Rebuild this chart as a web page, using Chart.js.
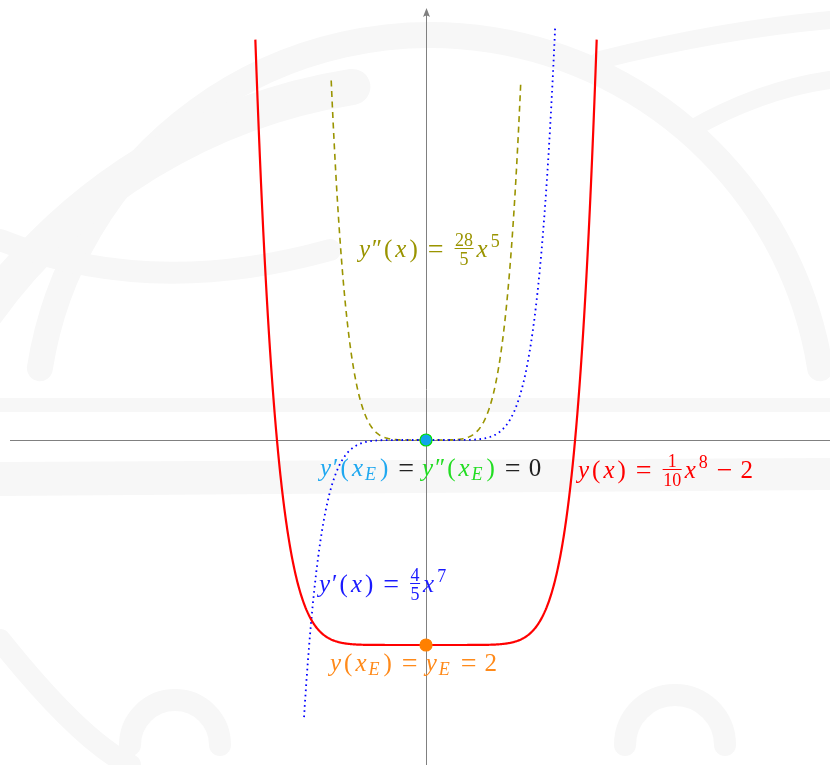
<!DOCTYPE html>
<html>
<head>
<meta charset="utf-8">
<title>y = x^8/10 - 2 und Ableitungen</title>
<script src="https://cdn.jsdelivr.net/npm/chart.js@4.4.1/dist/chart.umd.min.js"></script>
<style>
  html, body { margin: 0; padding: 0; background: #ffffff; }
  #wrap { width: 830px; height: 765px; }
</style>
</head>
<body>
<div id="wrap"><canvas id="funcChart" width="830" height="765"></canvas></div>
<script>
// Curves: y = a * x^n + c, each on its own domain
const curveLabels  = ['y(x)', "y'(x)", "y''(x)"];
const curveCoeffs  = [0.1, 0.8, 5.6];
const curvePowers  = [8, 7, 6];
const curveOffsets = [-2, 0, 0];
const curveFrom    = [-1.665, -1.19, -0.925];
const curveTo      = [1.665, 1.26, 0.925];
const curveColors  = ['#ff0000', '#0000ff', '#9a9400'];

// Marked points (x_E, y'(x_E)) and (x_E, y_E)
const markerX      = [0, 0];
const markerY      = [0, -2];
const markerFill   = ['#12a5ea', '#ff8000'];
const markerBorder = ['#00dd00', '#ff8000'];

// Visible window (function units)
const xMin = -4.156, xMax = 3.941;
const yMin = -3.171, yMax = 4.293;

function sampleCurve(i) {
    const pts = [];
    const n = 300;
    for (let k = 0; k <= n; k++) {
        const x = curveFrom[i] + (curveTo[i] - curveFrom[i]) * k / n;
        pts.push({ x, y: curveCoeffs[i] * Math.pow(x, curvePowers[i]) + curveOffsets[i] });
    }
    return pts;
}

/* ---------- tiny math-text renderer ---------- */
const SERIF = '"Liberation Serif", "DejaVu Serif", serif';
const FS = 25;      // main size
const FS_OP = 28;   // = and −
const FS_S = 18;    // sub / sup / fraction parts

function setFont(ctx, size, italic, spacing) {
    ctx.font = (italic ? 'italic ' : '') + size + 'px ' + SERIF;
    ctx.letterSpacing = (spacing || 0) + 'px';
}

// piece: [kind, text, color?]
// kind: i (italic), r (roman), pr (primes), op (binary op), sub, sup, frac ("num/den")
function drawMath(ctx, pieces, x, base, color) {
    ctx.save();
    ctx.textBaseline = 'alphabetic';
    ctx.textAlign = 'left';
    let cx = x;
    pieces.forEach(p => {
        const [kind, txt] = p;
        ctx.fillStyle = p[2] || color;
        if (kind === 'i' || kind === 'r') {
            setFont(ctx, FS, kind === 'i', 3);
            ctx.fillText(txt, cx, base);
            cx += ctx.measureText(txt).width;
        } else if (kind === 'pr') {
            setFont(ctx, FS, false, -1);
            ctx.fillText(txt, cx - 1, base);
            cx += ctx.measureText(txt).width + 2;
        } else if (kind === 'op') {
            cx += 7;
            setFont(ctx, FS_OP, false, 0);
            ctx.fillText(txt, cx, base + 1);
            cx += ctx.measureText(txt).width + 8;
        } else if (kind === 'sub') {
            setFont(ctx, FS_S, true, 0);
            ctx.fillText(txt, cx - 1, base + 4);
            cx += ctx.measureText(txt).width + 3;
        } else if (kind === 'sup') {
            setFont(ctx, FS_S, false, 0);
            ctx.fillText(txt, cx, base - 10);
            cx += ctx.measureText(txt).width + 2;
        } else if (kind === 'frac') {
            const [num, den] = txt.split('/');
            setFont(ctx, FS_S, false, 0);
            const wn = ctx.measureText(num).width, wd = ctx.measureText(den).width;
            const w = Math.max(wn, wd) + 1;
            const bar = base - 8.5;
            cx += 3;
            ctx.fillText(num, cx + (w - wn) / 2, base - 11);
            ctx.fillText(den, cx + (w - wd) / 2, base + 8);
            ctx.fillRect(cx, bar - 0.5, w, 1);
            cx += w + 3;
        }
    });
    ctx.restore();
}

const GREEN = '#22dd22', BLACK = '#222222';
const labels = [
    { x: 359, y: 257, color: '#9a9400', pieces: [['i', 'y'], ['pr', '′′'], ['r', '('], ['i', 'x'], ['r', ')'], ['op', '='], ['frac', '28/5'], ['i', 'x'], ['sup', '5']] },
    { x: 320, y: 476, color: '#1fa8f0', pieces: [['i', 'y'], ['pr', '′'], ['r', '('], ['i', 'x'], ['sub', 'E'], ['r', ')'], ['op', '=', BLACK],
        ['i', 'y', GREEN], ['pr', '′′', GREEN], ['r', '(', GREEN], ['i', 'x', GREEN], ['sub', 'E', GREEN], ['r', ')', GREEN], ['op', '=', BLACK], ['r', '0', BLACK]] },
    { x: 578, y: 478, color: '#ff0000', pieces: [['i', 'y'], ['r', '('], ['i', 'x'], ['r', ')'], ['op', '='], ['frac', '1/10'], ['i', 'x'], ['sup', '8'], ['op', '−'], ['r', '2']] },
    { x: 319, y: 592, color: '#1a1aff', pieces: [['i', 'y'], ['pr', '′'], ['r', '('], ['i', 'x'], ['r', ')'], ['op', '='], ['frac', '4/5'], ['i', 'x'], ['sup', '7']] },
    { x: 330, y: 671, color: '#ff8a1a', pieces: [['i', 'y'], ['r', '('], ['i', 'x'], ['sub', 'E'], ['r', ')'], ['op', '='], ['i', 'y'], ['sub', 'E'], ['op', '='], ['r', '2']] }
];

/* ---------- plugins ---------- */
const watermarkPlugin = {
    id: 'watermark',
    beforeDraw(chart) {
        const ctx = chart.ctx;
        ctx.save();
        ctx.fillStyle = '#ffffff';
        ctx.fillRect(0, 0, chart.width, chart.height);
        ctx.strokeStyle = '#f7f7f7';
        ctx.fillStyle = '#f7f7f7';
        ctx.lineCap = 'round';
        // faint bands above and below the x-axis
        ctx.fillRect(0, 398, 830, 14);
        ctx.beginPath();
        ctx.moveTo(0, 462); ctx.lineTo(830, 458); ctx.lineTo(830, 490); ctx.lineTo(0, 496);
        ctx.closePath(); ctx.fill();
        // large ring
        ctx.lineWidth = 26;
        ctx.beginPath(); ctx.arc(430, 430, 395, Math.PI * 1.05, Math.PI * 1.95); ctx.stroke();
        ctx.lineWidth = 36;
        ctx.beginPath(); ctx.arc(440, 640, 560, Math.PI * 1.2, Math.PI * 1.45); ctx.stroke();
        // sweeping strokes
        ctx.lineWidth = 18;
        ctx.beginPath(); ctx.moveTo(600, 60); ctx.quadraticCurveTo(720, 30, 830, 20); ctx.stroke();
        ctx.beginPath(); ctx.moveTo(690, 130); ctx.quadraticCurveTo(760, 90, 830, 80); ctx.stroke();
        ctx.lineWidth = 22;
        ctx.beginPath(); ctx.moveTo(0, 240); ctx.quadraticCurveTo(150, 300, 330, 250); ctx.stroke();
        ctx.beginPath(); ctx.moveTo(0, 640); ctx.quadraticCurveTo(80, 740, 130, 765); ctx.stroke();
        ctx.beginPath(); ctx.arc(175, 745, 45, Math.PI, Math.PI * 2); ctx.stroke();
        ctx.beginPath(); ctx.arc(675, 745, 50, Math.PI, Math.PI * 2); ctx.stroke();
        ctx.restore();
    }
};

const axesPlugin = {
    id: 'mathAxes',
    beforeDatasetsDraw(chart) {
        const { ctx, scales: { x, y } } = chart;
        const x0 = Math.round(x.getPixelForValue(0)) + 0.5;
        const y0 = Math.round(y.getPixelForValue(0)) + 0.5;
        ctx.save();
        ctx.strokeStyle = '#808080';
        ctx.fillStyle = '#808080';
        ctx.lineWidth = 1;
        ctx.beginPath();
        ctx.moveTo(10, y0); ctx.lineTo(830, y0);
        ctx.moveTo(x0, 765); ctx.lineTo(x0, 14);
        ctx.stroke();
        // arrow tip on the y-axis
        ctx.beginPath();
        ctx.moveTo(x0, 8);
        ctx.lineTo(x0 - 3.5, 17);
        ctx.quadraticCurveTo(x0, 14, x0 + 3.5, 17);
        ctx.closePath();
        ctx.fill();
        ctx.restore();
    },
    afterDatasetsDraw(chart) {
        const ctx = chart.ctx;
        labels.forEach(l => drawMath(ctx, l.pieces, l.x, l.y, l.color));
    }
};

const datasets = [
    // y'' dashed, y' dotted, y solid
    {
        data: sampleCurve(2), showLine: true, pointRadius: 0,
        borderColor: curveColors[2], borderWidth: 1.6, borderDash: [6, 4.5], order: 4
    },
    {
        data: sampleCurve(1), showLine: true, pointRadius: 0,
        borderColor: curveColors[1], borderWidth: 1.8, borderDash: [1.6, 3.6], order: 3
    },
    {
        data: sampleCurve(0), showLine: true, pointRadius: 0, tension: 0.001,
        borderColor: curveColors[0], borderWidth: 2.2, order: 2
    },
    {
        data: markerX.map((v, i) => ({ x: v, y: markerY[i] })), showLine: false,
        pointRadius: 6, pointBackgroundColor: markerFill, pointBorderColor: markerBorder,
        pointBorderWidth: 1.2, order: 1
    }
];

new Chart(document.getElementById('funcChart').getContext('2d'), {
    type: 'scatter',
    data: { datasets },
    options: {
        responsive: false,
        animation: false,
        layout: { padding: 0, autoPadding: false },
        plugins: { legend: { display: false }, tooltip: { enabled: false } },
        scales: {
            x: { type: 'linear', min: xMin, max: xMax, display: false },
            y: { type: 'linear', min: yMin, max: yMax, display: false }
        }
    },
    plugins: [watermarkPlugin, axesPlugin]
});
</script>
</body>
</html>
